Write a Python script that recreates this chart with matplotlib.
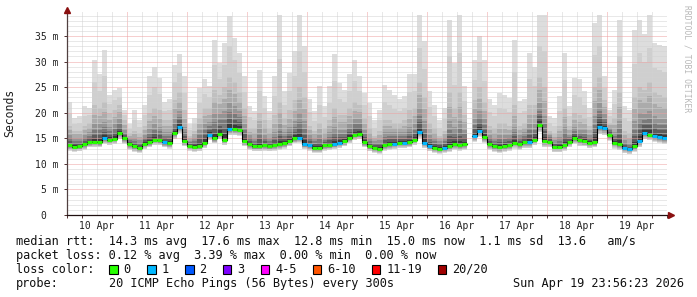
import numpy as np
import matplotlib
matplotlib.use('Agg')
import matplotlib.pyplot as plt
from matplotlib.patches import Rectangle

# ---------------- data (2-hour steps starting 10 Apr 00:00) ----------------
step_hours = 2
nan = float('nan')

median_ms = [
    13.6, 13.3, 13.4, 13.8, 14.2, 14.3, 14.2, 15.0, 14.7, 14.9, 16.0, 15.0,
    13.8, 13.4, 13.1, 13.9, 14.2, 14.7, 14.6, 14.2, 14.0, 16.0, 17.3, 14.4,
    13.5, 13.3, 13.4, 14.1, 15.7, 15.0, 15.9, 14.7, 16.8, 16.8, 16.7, 14.4,
    13.8, 13.4, 13.4, 13.6, 13.4, 13.6, 13.8, 14.0, 14.4, 15.0, 15.1, 13.8,
    13.6, 13.1, 13.1, 13.6, 13.6, 13.8, 14.1, 14.4, 15.1, 15.7, 15.8, 14.2,
    13.4, 13.1, 12.9, 13.6, 13.8, 13.9, 14.1, 14.1, 14.2, 14.7, 16.2, 14.1,
    13.4, 13.1, 12.9, 13.1, 13.4, 13.8, 13.6, 13.8, nan, 15.4, 16.4, 15.2,
    13.8, 13.4, 13.2, 13.4, 13.6, 14.1, 13.8, 14.2, 14.2, 14.7, 17.6, 14.4,
    14.3, 13.3, 13.3, 13.6, 14.3, 15.0, 14.6, 14.4, 14.1, 14.2, 17.3, 17.0,
    15.7, 14.1, 13.8, 13.1, 12.9, 13.4, 14.4, 16.0, 15.7, 15.4, 15.2, 15.0,
]
smoke_max_ms = [
    22.0, 19.0, 19.3, 21.3, 21.0, 30.4, 27.5, 32.3, 23.5, 24.5, 24.8, 20.6,
    17.7, 20.6, 18.6, 21.6, 27.1, 29.0, 26.8, 22.0, 22.6, 29.4, 31.4, 27.1,
    17.7, 19.0, 24.8, 26.5, 25.2, 34.3, 29.7, 33.6, 38.9, 34.6, 31.7, 27.1,
    21.3, 20.3, 28.4, 23.2, 20.3, 27.1, 39.2, 24.2, 27.8, 32.0, 39.2, 33.0,
    22.6, 20.3, 25.2, 21.3, 25.2, 31.4, 25.8, 24.5, 27.5, 30.4, 27.1, 23.9,
    21.9, 18.6, 20.6, 25.5, 24.5, 23.5, 22.6, 23.2, 27.5, 27.5, 39.2, 34.0,
    24.2, 21.6, 18.6, 20.9, 38.2, 29.7, 39.2, 25.2, nan, 30.4, 35.0, 30.4,
    22.6, 21.6, 23.9, 23.5, 22.9, 34.3, 22.2, 22.6, 31.7, 29.0, 39.2, 39.2,
    19.3, 19.0, 23.2, 31.7, 21.3, 26.8, 26.5, 24.2, 20.9, 37.6, 39.2, 27.1,
    20.6, 24.5, 38.2, 21.3, 20.6, 36.2, 38.2, 35.3, 39.2, 33.6, 33.3, 33.0,
]
smoke_p90_ms = [
    17.5, 16.5, 16.5, 17.5, 18.0, 21.5, 21.0, 22.0, 20.0, 20.5, 21.5, 18.5,
    16.0, 16.5, 16.0, 17.5, 20.0, 21.0, 20.5, 18.5, 18.5, 22.5, 24.0, 20.5,
    15.5, 16.5, 19.0, 21.0, 21.0, 24.5, 23.5, 25.0, 27.0, 26.0, 24.0, 21.0,
    17.0, 17.0, 20.0, 18.5, 17.0, 19.5, 22.0, 19.0, 20.5, 22.5, 25.0, 23.0,
    17.5, 16.5, 18.0, 17.0, 18.5, 21.0, 19.5, 19.5, 21.0, 22.0, 21.5, 19.0,
    17.0, 15.5, 16.5, 18.5, 18.5, 18.0, 18.0, 18.5, 20.5, 21.0, 26.0, 23.0,
    18.0, 17.0, 15.5, 16.5, 24.0, 21.0, 24.0, 19.5, nan, 22.5, 25.0, 22.0,
    17.5, 17.0, 18.0, 18.0, 17.5, 21.5, 17.5, 18.0, 21.5, 21.5, 27.0, 25.0,
    16.5, 16.0, 17.5, 21.0, 17.5, 20.0, 19.5, 19.0, 17.5, 25.0, 27.0, 22.5,
    18.0, 19.0, 24.0, 16.5, 16.0, 23.0, 25.0, 24.5, 26.0, 24.0, 23.5, 23.0,
]
smoke_p75_ms = [
    15.5, 15.0, 15.0, 15.5, 16.0, 17.5, 17.5, 18.0, 17.0, 17.5, 18.5, 16.5,
    15.0, 15.0, 14.5, 15.5, 16.5, 17.5, 17.0, 16.0, 16.0, 18.5, 20.0, 17.0,
    14.5, 15.0, 16.5, 17.5, 18.0, 19.5, 19.5, 20.0, 21.5, 21.0, 20.0, 17.5,
    15.5, 15.0, 16.5, 15.5, 15.0, 16.0, 17.5, 16.0, 17.0, 18.0, 19.5, 18.0,
    15.5, 15.0, 15.5, 15.0, 16.0, 17.0, 16.5, 16.5, 17.5, 18.5, 18.5, 16.5,
    15.0, 14.5, 14.5, 16.0, 16.0, 16.0, 16.0, 16.0, 17.0, 17.5, 20.5, 18.0,
    15.5, 15.0, 14.5, 15.0, 18.0, 17.0, 18.0, 16.5, nan, 18.5, 20.0, 18.5,
    15.5, 15.0, 15.5, 15.5, 15.5, 17.0, 15.5, 16.0, 17.5, 17.5, 21.5, 19.0,
    15.5, 14.5, 15.0, 17.0, 15.5, 17.0, 16.5, 16.5, 15.5, 19.0, 21.5, 19.5,
    17.0, 16.0, 18.0, 14.5, 14.0, 18.0, 19.5, 19.5, 20.0, 19.0, 18.5, 18.5,
]
smoke_min_ms = [
    12.6, 12.4, 12.5, 12.8, 13.2, 13.3, 13.2, 13.9, 13.7, 13.8, 14.8, 13.9,
    12.8, 12.4, 12.2, 12.9, 13.2, 13.6, 13.6, 13.2, 13.0, 14.8, 16.0, 13.4,
    12.6, 12.4, 12.5, 13.1, 14.6, 14.0, 14.8, 13.7, 15.6, 15.6, 15.5, 13.4,
    12.8, 12.5, 12.5, 12.6, 12.5, 12.6, 12.8, 13.0, 13.4, 14.0, 14.1, 12.9,
    12.6, 12.2, 12.2, 12.6, 12.7, 12.9, 13.1, 13.4, 14.0, 14.6, 14.8, 13.2,
    12.5, 12.2, 12.0, 12.6, 12.8, 12.9, 13.1, 13.1, 13.2, 13.6, 15.0, 13.1,
    12.5, 12.2, 12.0, 12.2, 12.4, 12.8, 12.6, 12.8, nan, 14.3, 15.3, 14.1,
    12.8, 12.4, 12.2, 12.4, 12.6, 13.0, 12.8, 13.1, 13.1, 13.6, 16.2, 13.3,
    13.2, 12.3, 12.3, 12.6, 13.3, 13.9, 13.5, 13.4, 13.1, 13.2, 15.8, 15.6,
    14.5, 13.0, 12.7, 12.1, 11.9, 12.4, 13.3, 14.8, 14.6, 14.3, 14.1, 13.9,
]
loss_count = [
    0, 0, 0, 0, 0, 0, 0, 1, 0, 0, 0, 0,
    0, 0, 0, 0, 0, 0, 0, 1, 0, 0, 1, 0,
    0, 0, 0, 0, 1, 0, 0, 0, 1, 0, 0, 0,
    0, 0, 0, 0, 0, 0, 0, 0, 0, 0, 1, 1,
    1, 0, 0, 0, 0, 1, 1, 0, 0, 0, 0, 0,
    0, 0, 0, 0, 0, 1, 0, 1, 0, 0, 1, 1,
    1, 0, 0, 1, 0, 0, 0, 0, 0, 1, 1, 0,
    0, 0, 0, 0, 0, 0, 0, 0, 1, 0, 0, 0,
    0, 0, 0, 0, 0, 0, 0, 0, 0, 0, 1, 1,
    0, 0, 0, 1, 1, 0, 1, 1, 0, 1, 1, 1,
]

day_labels = ['10 Apr', '11 Apr', '12 Apr', '13 Apr', '14 Apr',
              '15 Apr', '16 Apr', '17 Apr', '18 Apr', '19 Apr']
ytick_values = [0, 5, 10, 15, 20, 25, 30, 35]
ytick_labels = ['0  ', '5 m', '10 m', '15 m', '20 m', '25 m', '30 m', '35 m']

loss_legend_labels = ['0', '1', '2', '3', '4-5', '6-10', '11-19', '20/20']
loss_legend_upper = [0, 1, 2, 3, 5, 10, 19, 20]
loss_legend_colors = ['#26ff00', '#00b8ff', '#0059ff', '#7e00ff',
                      '#ff00ff', '#ff5500', '#ff0000', '#a00000']

line_median = 'median rtt:  14.3 ms avg  17.6 ms max  12.8 ms min  15.0 ms now  1.1 ms sd  13.6   am/s'
line_loss = 'packet loss: 0.12 % avg  3.39 % max  0.00 % min  0.00 % now'
probe_text = '20 ICMP Echo Pings (56 Bytes) every 300s'
stamp_text = 'Sun Apr 19 23:56:23 2026'

# ---------------- figure ----------------
W, H = 697, 297
fig = plt.figure(figsize=(W / 100, H / 100), dpi=100)
fig.patch.set_facecolor('white')

L, R, T, B = 67, 667, 12, 215
ax = fig.add_axes([L / W, 1 - B / H, (R - L) / W, (B - T) / H])
ax.set_facecolor('white')

med = np.array(median_ms, dtype=float)
mx = np.array(smoke_max_ms, dtype=float)
p90 = np.array(smoke_p90_ms, dtype=float)
p75 = np.array(smoke_p75_ms, dtype=float)
mn = np.array(smoke_min_ms, dtype=float)
n = len(med)
x = np.arange(n) * step_hours
xmax_h = n * step_hours

# quantile profile per step, used to build the smoke gradient
q_known = np.array([0.0, 0.5, 0.75, 0.9, 1.0])
vals = np.vstack([mn, med, p75, p90, mx])  # shape (5, n)


def at_q(q):
    out = np.empty(n)
    for i in range(n):
        col = vals[:, i]
        out[i] = np.nan if np.any(np.isnan(col)) else np.interp(q, q_known, col)
    return out


smoke_bands = [
    (0.00, 1.00, '#dddddd'),
    (0.04, 0.95, '#cfcfcf'),
    (0.10, 0.90, '#c0c0c0'),
    (0.18, 0.83, '#ababab'),
    (0.27, 0.76, '#949494'),
    (0.35, 0.68, '#7a7a7a'),
    (0.41, 0.61, '#5c5c5c'),
    (0.46, 0.55, '#3a3a3a'),
]
for qlo, qhi, col in smoke_bands:
    lo = at_q(qlo)
    hi = at_q(qhi)
    ax.bar(x, hi - lo, bottom=lo, width=step_hours, align='edge',
           color=col, linewidth=0, zorder=1, antialiased=False)

ymax = (B - T) / 5.114
ax.set_xlim(0, xmax_h)
ax.set_ylim(0, ymax)

# grid (drawn above the smoke, as rrdtool does)
dot = (0, (1, 1))
major_grid = '#eea0a0'
minor_grid = '#d2d2d2'
for h in np.arange(6, xmax_h, 6):
    major = (h % 24 == 0)
    ax.axvline(h, color=major_grid if major else minor_grid, lw=0.72, ls=dot,
               zorder=2)
for v in np.arange(1, ymax, 1):
    major = (int(round(v)) % 5 == 0)
    ax.axhline(v, color=major_grid if major else minor_grid, lw=0.72, ls=dot,
               zorder=2)

# median: black step line + loss-coloured dashes
x_edges = np.arange(n + 1) * step_hours
med_ext = np.append(med, med[-1])
ax.step(x_edges, med_ext, where='post', color='black', lw=0.8, zorder=3)


def loss_color(c):
    for up, col in zip(loss_legend_upper, loss_legend_colors):
        if c <= up:
            return col
    return loss_legend_colors[-1]


seg_colors = [loss_color(c) for c in loss_count]
ok = ~np.isnan(med)
ax.hlines(med[ok], x[ok], x[ok] + step_hours,
          colors=[c for c, o in zip(seg_colors, ok) if o], lw=2.2, zorder=4)

# axes styling
for s in ['top', 'right']:
    ax.spines[s].set_visible(False)
ax.spines['left'].set_color('#504040')
ax.spines['bottom'].set_color('#201010')
for s in ['left', 'bottom']:
    ax.spines[s].set_linewidth(0.9)
    ax.spines[s].set_zorder(5)

mono = 'DejaVu Sans Mono'
ax.set_xticks(np.arange(12, xmax_h, 24))
ax.set_xticklabels(day_labels, fontfamily=mono, fontsize=7)
ax.tick_params(axis='x', which='major', length=0, pad=4, colors='#202020')
ax.set_xticks(np.arange(0, xmax_h + 1, 6), minor=True)
ax.tick_params(axis='x', which='minor', length=2.2, width=0.7, color='#503030')

ax.set_yticks(ytick_values)
ax.set_yticklabels(ytick_labels, fontfamily=mono, fontsize=7)
ax.tick_params(axis='y', which='major', length=2.2, width=0.7, pad=4,
               color='#503030', labelcolor='#202020')

# arrows
ax.plot([0], [1 + 2.5 / (B - T)], marker='^', ms=4.5, color='#8a1010',
        transform=ax.transAxes, clip_on=False, zorder=6)
ax.plot([1 + 3.5 / (R - L)], [0], marker='>', ms=4.5, color='#8a1010',
        transform=ax.transAxes, clip_on=False, zorder=6)


def fx(px):
    return px / W


def fy(py):
    return 1 - py / H


fig.text(fx(10), fy(113), 'Seconds', rotation=90, ha='center', va='center',
         fontfamily=mono, fontsize=8.3, color='#202020')
fig.text(fx(687), fy(5), 'RRDTOOL / TOBI OETIKER', rotation=270, ha='center',
         va='top', fontfamily=mono, fontsize=5.8, color='#b8b8b8')

fs = 8.6
cw = 7.17
x0 = 16
rows = [241.5, 255.5, 269.5, 283.5]
fig.text(fx(x0), fy(rows[0]), line_median, ha='left', va='center',
         fontfamily=mono, fontsize=fs, color='#101010')
fig.text(fx(x0), fy(rows[1]), line_loss, ha='left', va='center',
         fontfamily=mono, fontsize=fs, color='#101010')
fig.text(fx(x0), fy(rows[2]), 'loss color:', ha='left', va='center',
         fontfamily=mono, fontsize=fs, color='#101010')
fig.text(fx(x0), fy(rows[3]), 'probe:', ha='left', va='center',
         fontfamily=mono, fontsize=fs, color='#101010')
fig.text(fx(x0 + 13 * cw), fy(rows[3]), probe_text, ha='left', va='center',
         fontfamily=mono, fontsize=fs, color='#101010')
fig.text(fx(684), fy(rows[3]), stamp_text, ha='right', va='center',
         fontfamily=mono, fontsize=fs, color='#101010')

bx = x0 + 13 * cw
bs = 8.5
for lab, col in zip(loss_legend_labels, loss_legend_colors):
    fig.patches.append(Rectangle((fx(bx), fy(rows[2] + bs / 2)), bs / W, bs / H,
                                 transform=fig.transFigure, facecolor=col,
                                 edgecolor='black', linewidth=0.8))
    fig.text(fx(bx + 14.5), fy(rows[2]), lab, ha='left', va='center',
             fontfamily=mono, fontsize=fs, color='#101010')
    bx += 30.9 + len(lab) * 7.0

fig.savefig('out.png', dpi=100)
